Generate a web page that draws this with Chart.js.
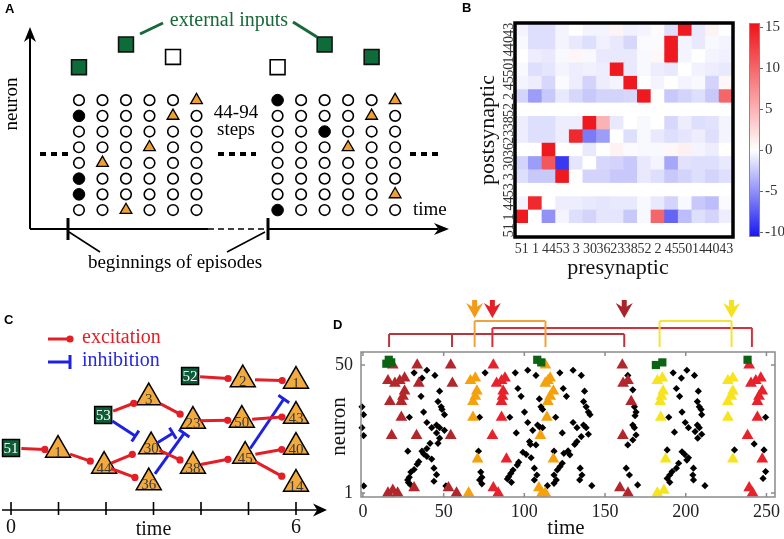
<!DOCTYPE html>
<html>
<head>
<meta charset="utf-8">
<script src="https://cdn.jsdelivr.net/npm/chart.js@4.4.1/dist/chart.umd.min.js"></script>
<style>
  body { margin: 0; background: #fff; }
  #fig { position: relative; width: 784px; height: 539px; overflow: hidden; background: #fff; }
  canvas { position: absolute; }
</style>
</head>
<body>
<div id="fig">
  <canvas id="panelA" width="460" height="300" style="left:0;top:0"></canvas>
  <canvas id="panelB" width="344" height="300" style="left:440px;top:0"></canvas>
  <canvas id="panelBbar" width="40" height="300" style="left:745px;top:0"></canvas>
  <canvas id="panelC" width="330" height="239" style="left:0;top:300px"></canvas>
  <canvas id="panelD" width="464" height="239" style="left:320px;top:300px"></canvas>
</div>
<script>
// ---------- data ----------

// A: two episodes, 8 neurons x 6 steps (top row first). o = silent, x = spike, t = sequence spike
const episodeLeft = ['ooooot', 'xoooto', 'oooooo', 'oootoo', 'otoooo', 'xooooo', 'xooooo', 'ootooo'];
const episodeRight = ['xoooot', 'ooooto', 'ooxooo', 'oootoo', 'oooooo', 'oooooo', 'ooooot', 'xooooo'];
const episodeStart = [0, 8.45];
const inputsActive = [[0, 10.1], [2, 11.55], [10.45, 11.55], [12.45, 10.75]];
const inputsSilent = [[4, 10.75], [8.45, 10.1]];

// B: weight matrix, rows = postsynaptic (bottom to top), columns = presynaptic
const neuronOrder = ['51', '1', '44', '53', '3', '30', '36', '23', '38', '52', '2', '45', '50', '14', '40', '43'];
const weights = [
  [0, 0, 0, 0, 0, 0, 0, 0, 0, 0, 0, 0, 0, 0, 0, 0],                                   // 51
  [15, 0, -5, -0.5, -1.5, -2, -1.2, -1.2, -2.5, -0.3, 10, -7, -3, -1.5, -2, -0.8],       // 1
  [-0.5, 14, 0, -0.8, -0.8, -1, -1.2, -1, -1, -0.3, -1, -2, -0.3, -2.5, -3, -0.2],       // 44
  [0, 0, 0, 0, 0, 0, 0, 0, 0, 0, 0, 0, 0, 0, 0, 0],                                   // 53
  [-1.5, -2.5, -2.5, 15, 0, -2, -2, -2.5, -2.5, -1, -1.5, -2.5, -2, -1.5, -2, -1.5],     // 3
  [-2, -4.5, 11, -9, -1.2, 0, -1.8, -2, -2.5, -1, -0.5, -4, -1.3, -1.5, -1.5, -1],       // 30
  [0, 0, 15, 0, 0, -1, 0, 0.8, -0.2, -0.3, -0.3, 0.5, 1, -0.5, -0.8, 0],                 // 36
  [-0.8, -1.5, -1.5, -0.8, 14, -6, -4.5, 0, -1.5, -0.3, -1, -1.5, -1.2, -0.8, -1.5, -0.5], // 23
  [-0.8, -1.5, -1.5, -0.8, -0.8, 15, 5, -1, 0, -0.3, 0, -1.8, -0.8, -1.5, -1.3, -0.5],   // 38
  [0, 0, 0, 0, 0, 0, 0, 0, 0, 0, 0, 0, 0, 0, 0, 0],                                   // 52
  [-2, -4.5, -2.5, -1, -1.8, -2.5, -2, -2, -1.8, 15, 0, -2.5, -2, -1.5, -2.5, 10],       // 2
  [-0.5, -0.8, -1.8, -0.2, -0.8, -2, -0.8, -0.5, 15, 0, -0.5, 0, -0.5, -0.3, -2, 0.5],   // 45
  [-0.3, -1.5, -1.2, -0.5, -0.8, -0.7, -0.8, 15, -1, -0.3, -0.8, -1, 0, -0.6, -0.8, -1], // 50
  [0, -0.8, -1, -0.3, 0.6, -0.3, -1, -1, -1, -0.3, 0.5, 15, -0.5, 0, -0.5, -0.7],        // 14
  [-0.3, -1.5, -1.5, -0.5, -1, -1.5, -0.7, -1, -1.8, -0.2, -0.2, 15, -0.5, -1, -0.3, -0.5], // 40
  [-0.5, -1.5, -1.5, -0.5, 0, -0.5, -0.5, 0.7, -0.7, -0.5, 0.3, -1.5, 15, -1, 0.8, 0]    // 43
];
const colorMin = -10.6;
const colorMax = 15.5;
const colorTicks = [-10, -5, 0, 5, 10, 15];

// C: network unrolled in time
const inputNeurons = [
  { key: 'in51', label: '51', t: 0, level: 6.2 },
  { key: 'in53', label: '53', t: 1.94, level: 9.5 },
  { key: 'in52', label: '52', t: 3.77, level: 13.4 }
];
const chainNeurons = [
  { key: 'n1', label: '1', t: 0.99, level: 6.0 },
  { key: 'n44', label: '44', t: 1.96, level: 4.4 },
  { key: 'n3', label: '3', t: 2.9, level: 11.25 },
  { key: 'n30', label: '30', t: 2.95, level: 6.35 },
  { key: 'n36', label: '36', t: 2.9, level: 2.75 },
  { key: 'n23', label: '23', t: 3.83, level: 8.9 },
  { key: 'n38', label: '38', t: 3.83, level: 4.4 },
  { key: 'n2', label: '2', t: 4.88, level: 13.05 },
  { key: 'n50', label: '50', t: 4.86, level: 9.0 },
  { key: 'n45', label: '45', t: 4.93, level: 5.4 },
  { key: 'n1b', label: '1', t: 6, level: 12.9 },
  { key: 'n43', label: '43', t: 6, level: 9.4 },
  { key: 'n40', label: '40', t: 6, level: 6.3 },
  { key: 'n14', label: '14', t: 6, level: 2.6 }
];
// [from, to, start fraction, end fraction]
const excitatory = [
  ['in51', 'n1', 0.22, 0.72], ['n1', 'n44', 0.26, 0.7], ['n44', 'n30', 0.15, 0.6], ['n44', 'n36', 0.15, 0.69],
  ['in53', 'n3', 0.22, 0.67], ['n3', 'n23', 0.27, 0.71], ['n30', 'n38', 0.2, 0.69], ['n23', 'n50', 0.15, 0.71],
  ['n38', 'n45', 0.15, 0.67], ['in52', 'n2', 0.19, 0.72], ['n2', 'n1b', 0.23, 0.74], ['n50', 'n43', 0.19, 0.74],
  ['n45', 'n40', 0.2, 0.72], ['n45', 'n14', 0.2, 0.72]
];
const inhibitory = [
  ['in53', 'n30', 0.19, 0.67], ['n30', 'n23', 0.14, 0.52], ['n36', 'n23', 0.14, 0.8], ['n45', 'n1b', 0.1, 0.76]
];
const timeSteps = [0, 1, 2, 3, 4, 5, 6];

// D: raster [time, neuron]
const inputSpikes = [[14.5, 50.5], [16, 52], [17.5, 51], [108, 52], [110.5, 51], [181.5, 50], [185.5, 51], [238.3, 52]];
const darkRedSpikes = [
  [18.5, 50], [33.6, 50], [15.5, 44], [19.8, 43], [22.8, 44], [25.8, 45], [34.6, 43], [16.7, 36], [23.8, 36],
  [24.8, 38], [25.8, 40], [23.8, 30], [17.8, 23], [33.2, 23], [15.5, 1], [18.5, 2], [21.5, 1], [31.7, 3],
  [54.4, 50], [55.4, 43], [54.4, 23], [53, 3], [58, 1],
  [160.7, 50], [161.2, 43], [164.2, 44], [166.2, 36], [161, 23], [159.2, 3], [164.2, 1]
];
const orangeSpikes = [
  [65.5, 1], [66.6, 44], [69.6, 45], [70.6, 40], [69.6, 38], [68.2, 36], [68.2, 30], [71, 14],
  [113, 50], [113, 43], [114.6, 44], [116, 45], [118, 40], [116, 38], [114.6, 36], [114, 30], [110, 23],
  [118, 14], [109, 3], [111, 1], [113, 1]
];
const redSpikes = [
  [80.8, 50], [82.8, 43], [85.9, 44], [88, 45], [86.9, 40], [86.5, 38], [85.9, 36], [85.9, 30], [80.2, 23],
  [88.9, 14], [80.8, 3], [83.8, 1],
  [239.3, 50], [240.4, 43], [243.4, 44], [246.5, 45], [247.4, 40], [245.4, 38], [244.4, 36], [244.4, 30],
  [238.3, 23], [247.4, 14], [239.3, 3], [241.4, 1]
];
const yellowSpikes = [
  [182.4, 44], [185.5, 45], [186, 40], [185, 38], [184.2, 36], [184.5, 30], [187.5, 14], [182.4, 1], [186.5, 2],
  [226.1, 44], [229.2, 45], [229.2, 40], [228.2, 38], [226.1, 36], [226.1, 30], [229.2, 14]
];
const otherSpikes = [
  [-0.6, 34], [0.4, 31], [-0.6, 26], [0.4, 23], [0.5, 3.7],
  [31.7, 47], [39.6, 48], [36.6, 45], [36, 38], [44.6, 46], [47.5, 40], [46.5, 36], [48.5, 34], [49, 33],
  [50.5, 31], [28.8, 30], [37.6, 32], [39.6, 28], [42.6, 26], [45.6, 27], [47.5, 26], [50.5, 25], [45.6, 24],
  [47.5, 22], [27.8, 17], [39.6, 18], [41.6, 20], [36.6, 17], [37.6, 16], [39.6, 15], [42.6, 14], [46.5, 20],
  [34.6, 13], [33.6, 12], [31.7, 10], [29.7, 9], [28.7, 7], [27.7, 6], [28.2, 5], [44, 10.5], [45.6, 8],
  [44, 5.5], [29.7, 4], [51.4, 3.7],
  [72.3, 30], [71.6, 17], [73, 9], [73.7, 7], [72.3, 6], [73.7, 4.5], [75.7, 47],
  [94.4, 47], [102.1, 48], [107.2, 46], [96, 41], [98, 38], [91, 30], [100.1, 32], [95, 24], [102.1, 28],
  [105.2, 25], [108.2, 27], [109.9, 26], [111.3, 26], [109.3, 37], [110.3, 34], [111.3, 33], [119.4, 30],
  [122, 47], [130.2, 48], [135.3, 46], [124.1, 41], [126.1, 38], [137.3, 40], [136.7, 36], [138.3, 34],
  [139.7, 32], [140.7, 31], [130.2, 28], [132.6, 26], [123.5, 24], [136.7, 27], [138.3, 26], [139.7, 23.5],
  [135.3, 22.6], [132.6, 20.7], [131.2, 19.6], [103.2, 20.7], [103.8, 19.6], [107.2, 19.4], [118.4, 17],
  [99.1, 16.6], [101.1, 15.8], [104.2, 14.5], [96.5, 12.8], [95.6, 11.7], [93, 9.8], [91.6, 8.5], [90.3, 7.2],
  [89.5, 6.4], [92, 5.1], [106.2, 10.5], [107.8, 7.9], [106.2, 6], [124.5, 16.2], [127.1, 17.1], [128.2, 15.6],
  [123.5, 12.4], [122.1, 11.1], [120.4, 9.8], [118.4, 7.9], [119.8, 6], [118.4, 4.7], [134.6, 10.5],
  [135.7, 7.9], [134.3, 6], [141.8, 3.8], [114.3, 3.8],
  [164.1, 46], [167.2, 40.5], [168.2, 34], [169.2, 32], [168.6, 30.6], [167.2, 27], [168.2, 26], [169.2, 23.2],
  [167.2, 21.3], [164.1, 19.4], [163.1, 10.5], [165.1, 7.9], [170.2, 4.1],
  [192.2, 47], [200.7, 48], [197.3, 45], [196.2, 38], [205.4, 46], [194.2, 41], [207.8, 40], [207.2, 36],
  [208.4, 34], [209.5, 33], [209.9, 31], [189.5, 30], [197.7, 32], [199.7, 28], [201.7, 26], [207.2, 27],
  [208.4, 26], [209.9, 23.5], [205.8, 24.5], [207.4, 22], [193, 24.3], [188.5, 17.5], [197.7, 16.8],
  [199.3, 15.8], [201.7, 14.5], [200.7, 13.6], [195.6, 12.4], [194.2, 10.5], [191.6, 9.2], [190.1, 7.9],
  [188.5, 6.6], [190.1, 5.1], [204.8, 10.5], [204.4, 7.9], [204.8, 6], [211.9, 3.8],
  [249.5, 30], [230.2, 17.5], [242.4, 19.8], [248.5, 17.5], [249.5, 9.2], [247.9, 6.6]
];
const timeTicks = [0, 50, 100, 150, 200, 250];
const neuronTicks = [1, 50];
// links between episodes drawn above the raster
const linkDarkRed = [16.2, 55.2, 161.9];
const linkRed = [80.2, 241];
const linkOrange = [69.2, 113.1];
const linkYellow = [183.8, 228.4];
const cueTimes = [69.2, 80.2, 161.9, 228.4];

// ---------- helpers ----------
const SERIF = "'Liberation Serif', 'Times New Roman', serif";
const SANS = "'Liberation Sans', Arial, sans-serif";
const base = {
  responsive: false, animation: false, devicePixelRatio: 1, events: [],
  plugins: { legend: { display: false }, tooltip: { enabled: false } }
};
Chart.defaults.font.family = SERIF;
Chart.defaults.color = '#222';

function seg(c, x1, y1, x2, y2) {
  c.beginPath(); c.moveTo(x1, y1); c.lineTo(x2, y2); c.stroke();
}
function arrowHead(c, x, y, dx, dy, len, hw) {
  const px = -dy, py = dx;
  c.beginPath();
  c.moveTo(x, y);
  c.lineTo(x - dx * len + px * hw, y - dy * len + py * hw);
  c.lineTo(x - dx * len * 0.7, y - dy * len * 0.7);
  c.lineTo(x - dx * len - px * hw, y - dy * len - py * hw);
  c.closePath(); c.fill();
}
function label(c, text, x, y, font, color, align) {
  c.font = font; c.fillStyle = color || '#000';
  c.textAlign = align || 'center'; c.textBaseline = 'middle';
  c.fillText(text, x, y);
}

// ---------- A ----------
const cells = { o: [], x: [], t: [] };
[episodeLeft, episodeRight].forEach((grid, b) => {
  grid.forEach((row, r) => {
    row.split('').forEach((s, col) => {
      cells[s].push({ x: episodeStart[b] + col, y: grid.length - r });
    });
  });
});
const toXY = arr => arr.map(([x, y]) => ({ x, y }));

const panelADecor = {
  id: 'panelADecor',
  afterDraw(chart) {
    const c = chart.ctx;
    c.save();
    c.strokeStyle = '#000'; c.fillStyle = '#000';
    label(c, 'A', 5, 9, 'bold 13px ' + SANS, '#000', 'left');
    // axes
    c.lineWidth = 2;
    seg(c, 30, 229, 30, 36);
    seg(c, 30, 229, 208, 229);
    seg(c, 268, 229, 438, 229);
    arrowHead(c, 30, 27, 0, -1, 15, 6);
    arrowHead(c, 449, 229, 1, 0, 15, 6);
    c.lineWidth = 1.5; c.setLineDash([6, 4]);
    seg(c, 208, 229, 268, 229);
    c.setLineDash([]);
    c.lineWidth = 3;
    seg(c, 68, 218, 68, 240);
    seg(c, 268, 218, 268, 240);
    // pointers to beginnings
    c.lineWidth = 1.5;
    seg(c, 100, 252, 69, 232);
    seg(c, 227, 252, 265, 232);
    label(c, 'beginnings of episodes', 175, 263, '19px ' + SERIF, '#000');
    label(c, 'time', 413, 210, '19px ' + SERIF, '#000', 'left');
    c.save(); c.translate(12, 104); c.rotate(-Math.PI / 2);
    label(c, 'neuron', 0, 0, '19px ' + SERIF, '#000');
    c.restore();
    // ellipsis dashes
    c.lineWidth = 4; c.setLineDash([6, 5]);
    seg(c, 40, 154, 72, 154);
    seg(c, 218, 154, 256, 154);
    seg(c, 410, 154, 442, 154);
    c.setLineDash([]);
    label(c, '44-94', 236, 113, '19px ' + SERIF, '#000');
    label(c, 'steps', 236, 130, '19px ' + SERIF, '#000');
    // external inputs
    const green = '#17683A';
    label(c, 'external inputs', 229, 21, '20px ' + SERIF, green);
    c.strokeStyle = green; c.lineWidth = 3;
    seg(c, 140, 34, 163, 23);
    seg(c, 293, 22, 317, 37);
    c.restore();
  }
};

new Chart(document.getElementById('panelA'), {
  type: 'scatter',
  data: {
    datasets: [
      { data: cells.o, pointStyle: 'circle', pointRadius: 5.3, pointBackgroundColor: '#fff', pointBorderColor: '#000', pointBorderWidth: 1.6 },
      { data: cells.x, pointStyle: 'circle', pointRadius: 5.8, pointBackgroundColor: '#000', pointBorderColor: '#000', pointBorderWidth: 1 },
      { data: cells.t, pointStyle: 'triangle', pointRadius: 6.8, pointBackgroundColor: '#F0A030', pointBorderColor: '#000', pointBorderWidth: 1.3 },
      { data: toXY(inputsActive), pointStyle: 'rect', pointRadius: 10.5, pointBackgroundColor: '#0E6B3A', pointBorderColor: '#111', pointBorderWidth: 1.6 },
      { data: toXY(inputsSilent), pointStyle: 'rect', pointRadius: 10.5, pointBackgroundColor: '#fff', pointBorderColor: '#000', pointBorderWidth: 1.6 }
    ]
  },
  options: {
    ...base,
    layout: { padding: 0, autoPadding: false },
    scales: {
      x: { display: false, min: -3.36, max: 16.21 },
      y: { display: false, min: -4.73, max: 14.38 }
    }
  },
  plugins: [panelADecor]
});

// ---------- B ----------
function weightColor(v) {
  const mix = (a, b, t) => Math.round(a + (b - a) * t);
  if (v >= 0) {
    const t = Math.min(v / colorMax, 1);
    return `rgb(${mix(255, 238, t)},${mix(255, 18, t)},${mix(255, 24, t)})`;
  }
  const t = Math.min(v / colorMin, 1);
  return `rgb(${mix(255, 22, t)},${mix(255, 22, t)},${mix(255, 240, t)})`;
}

const panelBDecor = {
  id: 'panelBDecor',
  afterDraw(chart) {
    const c = chart.ctx, a = chart.chartArea, ys = chart.scales.y;
    c.save();
    c.strokeStyle = '#000'; c.lineWidth = 3.5;
    c.strokeRect(a.left, a.top, a.right - a.left, a.bottom - a.top);
    neuronOrder.forEach((n, r) => {
      c.save(); c.translate(69, ys.getPixelForValue(r + 0.5)); c.rotate(-Math.PI / 2);
      label(c, n, 0, 0, '14px ' + SERIF, '#333');
      c.restore();
    });
    label(c, 'presynaptic', 178, 268, '22px ' + SERIF, '#111');
    c.save(); c.translate(48, 130); c.rotate(-Math.PI / 2);
    label(c, 'postsynaptic', 0, 0, '22px ' + SERIF, '#111');
    c.restore();
    label(c, 'B', 22, 8, 'bold 13px ' + SANS, '#000', 'left');
    c.restore();
  }
};

new Chart(document.getElementById('panelB'), {
  type: 'bar',
  data: {
    labels: neuronOrder,
    datasets: weights.map((row, r) => ({
      data: row.map(() => [r, r + 1]),
      backgroundColor: row.map(weightColor),
      borderWidth: 0,
      inflateAmount: 0.6,
      grouped: false,
      barPercentage: 1,
      categoryPercentage: 1
    }))
  },
  options: {
    ...base,
    layout: { padding: { left: 75, top: 23, right: 51, bottom: 0 }, autoPadding: false },
    scales: {
      x: {
        grid: { display: false, drawTicks: false }, border: { display: false },
        ticks: { autoSkip: false, maxRotation: 0, padding: 4, font: { size: 14, family: SERIF }, color: '#333' },
        afterFit: s => { s.height = 63; }
      },
      y: { display: false, min: 0, max: 16 }
    }
  },
  plugins: [panelBDecor]
});

const colorbarFrame = {
  id: 'colorbarFrame',
  afterDatasetsDraw(chart) {
    const c = chart.ctx, a = chart.chartArea;
    c.save(); c.strokeStyle = '#888'; c.lineWidth = 1;
    c.strokeRect(a.left + 0.5, a.top + 0.5, a.right - a.left - 1, a.bottom - a.top - 1);
    c.restore();
  }
};

new Chart(document.getElementById('panelBbar'), {
  type: 'bar',
  data: {
    labels: [''],
    datasets: [{
      data: [[colorMin, colorMax]],
      backgroundColor: ctx => {
        const a = ctx.chart.chartArea;
        if (!a) return '#fff';
        const g = ctx.chart.ctx.createLinearGradient(0, a.bottom, 0, a.top);
        const zero = -colorMin / (colorMax - colorMin);
        g.addColorStop(0, weightColor(colorMin));
        g.addColorStop(zero, '#fff');
        g.addColorStop(1, weightColor(colorMax));
        return g;
      },
      borderWidth: 0, barPercentage: 1, categoryPercentage: 1
    }]
  },
  options: {
    ...base,
    layout: { padding: { left: 4, top: 23, right: 0, bottom: 63 }, autoPadding: false },
    scales: {
      x: { display: false },
      y: {
        position: 'right', min: colorMin, max: colorMax,
        afterBuildTicks: s => { s.ticks = colorTicks.map(v => ({ value: v })); },
        grid: { drawOnChartArea: false, tickLength: 3, color: '#666' },
        border: { display: false },
        ticks: { padding: 2, font: { size: 15, family: SERIF }, color: '#333' },
        afterFit: s => { s.width = 25; }
      }
    }
  },
  plugins: [colorbarFrame]
});

// ---------- C ----------
const nodeByKey = {};
inputNeurons.concat(chainNeurons).forEach(n => { nodeByKey[n.key] = n; });
const RED = '#E41E26', BLUE = '#1E22E0';

function edgeDataset([from, to, s, e], kind) {
  const a = nodeByKey[from], b = nodeByKey[to];
  const exc = kind === 'exc';
  const color = exc ? RED : BLUE;
  return {
    showLine: true,
    data: [
      { x: a.t + s * (b.t - a.t), y: a.level + s * (b.level - a.level) },
      { x: a.t + e * (b.t - a.t), y: a.level + e * (b.level - a.level) }
    ],
    borderColor: color, borderWidth: 3,
    pointRadius: [0, exc ? 3.6 : 6.5],
    pointStyle: exc ? 'circle' : 'line',
    pointBackgroundColor: color, pointBorderColor: color,
    pointBorderWidth: exc ? 0 : 3,
    pointRotation: ctx => {
      const d = ctx.dataset.data, xs = ctx.chart.scales.x, ys = ctx.chart.scales.y;
      const dx = xs.getPixelForValue(d[1].x) - xs.getPixelForValue(d[0].x);
      const dy = ys.getPixelForValue(d[1].y) - ys.getPixelForValue(d[0].y);
      return Math.atan2(dy, dx) * 180 / Math.PI + 90;
    },
    order: 0
  };
}

const panelCDecor = {
  id: 'panelCDecor',
  afterDatasetDraw(chart, args) {
    const ds = chart.data.datasets[args.index];
    if (!ds.nodeLabels) return;
    const c = chart.ctx, xs = chart.scales.x, ys = chart.scales.y;
    c.save();
    ds.data.forEach((p, i) => {
      const x = xs.getPixelForValue(p.x), y = ys.getPixelForValue(p.y);
      if (ds.pointStyle === 'triangle') label(c, ds.nodeLabels[i], x, y + 3, '15px ' + SERIF, '#3a3a3a');
      else label(c, ds.nodeLabels[i], x, y + 1, '15px ' + SERIF, '#fff');
    });
    c.restore();
  },
  afterDraw(chart) {
    const c = chart.ctx, xs = chart.scales.x, ys = chart.scales.y;
    const y0 = ys.getPixelForValue(0);
    c.save();
    c.strokeStyle = '#000'; c.fillStyle = '#000'; c.lineWidth = 1.6;
    seg(c, 2, y0, 318, y0);
    arrowHead(c, 327, y0, 1, 0, 14, 6.5);
    timeSteps.forEach(t => {
      const x = xs.getPixelForValue(t);
      seg(c, x, y0 - 8, x, y0 + 5);
    });
    label(c, '0', xs.getPixelForValue(0), y0 + 18, '20px ' + SERIF, '#111');
    label(c, '6', xs.getPixelForValue(6), y0 + 18, '20px ' + SERIF, '#111');
    label(c, 'time', xs.getPixelForValue(3), y0 + 20, '20px ' + SERIF, '#111');
    // legend
    c.lineWidth = 3;
    c.strokeStyle = RED; c.fillStyle = RED;
    seg(c, 48, 39, 70, 39);
    c.beginPath(); c.arc(70, 39, 3.6, 0, Math.PI * 2); c.fill();
    label(c, 'excitation', 82, 38, '20px ' + SERIF, RED, 'left');
    c.strokeStyle = BLUE;
    seg(c, 48, 62, 70, 62);
    seg(c, 70, 55, 70, 69);
    label(c, 'inhibition', 82, 61, '20px ' + SERIF, '#2626E6', 'left');
    label(c, 'C', 4, 20, 'bold 13px ' + SANS, '#000', 'left');
    c.restore();
  }
};

new Chart(document.getElementById('panelC'), {
  type: 'scatter',
  data: {
    datasets: [
      ...excitatory.map(e => edgeDataset(e, 'exc')),
      ...inhibitory.map(e => edgeDataset(e, 'inh')),
      {
        data: chainNeurons.map(n => ({ x: n.t, y: n.level })),
        nodeLabels: chainNeurons.map(n => n.label),
        pointStyle: 'triangle', pointRadius: 14.4,
        pointBackgroundColor: '#F2AA3E', pointBorderColor: '#000', pointBorderWidth: 1.5, order: 1
      },
      {
        data: inputNeurons.map(n => ({ x: n.t, y: n.level })),
        nodeLabels: inputNeurons.map(n => n.label),
        pointStyle: 'rect', pointRadius: 12,
        pointBackgroundColor: '#0D5E38', pointBorderColor: '#000', pointBorderWidth: 1.5, order: 1
      }
    ]
  },
  options: {
    ...base,
    layout: { padding: 0, autoPadding: false },
    scales: {
      x: { display: false, min: -0.232, max: 6.716 },
      y: { display: false, min: -2.9, max: 21 }
    }
  },
  plugins: [panelCDecor]
});

// ---------- D ----------
function spikeSet(pts, style, color, radius, order) {
  return {
    data: toXY(pts), pointStyle: style, pointRadius: radius,
    pointBackgroundColor: color, pointBorderColor: color, pointBorderWidth: 0,
    order, clip: 10
  };
}

const panelDDecor = {
  id: 'panelDDecor',
  afterDraw(chart) {
    const c = chart.ctx, a = chart.chartArea, xs = chart.scales.x, ys = chart.scales.y;
    c.save();
    // frame with inward ticks
    c.strokeStyle = '#8a8a8a'; c.lineWidth = 1.5;
    c.strokeRect(a.left, a.top, a.right - a.left, a.bottom - a.top);
    timeTicks.forEach(t => {
      const x = xs.getPixelForValue(t);
      seg(c, x, a.bottom, x, a.bottom - 4);
      seg(c, x, a.top, x, a.top + 4);
    });
    neuronTicks.forEach(n => {
      const y = ys.getPixelForValue(n);
      seg(c, a.left, y, a.left + 4, y);
      seg(c, a.right, y, a.right - 4, y);
    });
    label(c, 'time', 246, 228, '21px ' + SERIF, '#111');
    c.save(); c.translate(19, (a.top + a.bottom) / 2 + 2); c.rotate(-Math.PI / 2);
    label(c, 'neuron', 0, 0, '21px ' + SERIF, '#111');
    c.restore();
    label(c, 'D', 13, 25, 'bold 13px ' + SANS, '#000', 'left');

    // brackets linking episodes
    const legBottom = 47;
    const bracket = (times, yLevel, color) => {
      c.strokeStyle = color; c.lineWidth = 2;
      const px = times.map(t => xs.getPixelForValue(t));
      seg(c, px[0], yLevel, px[px.length - 1], yLevel);
      px.forEach(x => seg(c, x, yLevel, x, legBottom));
    };
    bracket(linkDarkRed, 34, '#B8363B');
    bracket(linkRed, 28, '#D8303A');
    bracket(linkOrange, 21, '#F2A23A');
    bracket(linkYellow, 21, '#F3E33A');

    // cue arrows
    const cueColors = ['#F39A1B', '#E32028', '#A8232A', '#F5E21E'];
    cueTimes.forEach((t, i) => {
      const x = xs.getPixelForValue(t);
      c.fillStyle = cueColors[i];
      c.fillRect(x - 2.5, 0, 5, 9);
      c.beginPath();
      c.moveTo(x, 18); c.lineTo(x - 8.5, 3); c.lineTo(x, 8); c.lineTo(x + 8.5, 3);
      c.closePath(); c.fill();
    });
    c.restore();
  }
};

new Chart(document.getElementById('panelD'), {
  type: 'scatter',
  data: {
    datasets: [
      spikeSet(inputSpikes, 'rect', '#0B6414', 5.8, 0),
      spikeSet(darkRedSpikes, 'triangle', '#B3262C', 6.8, 1),
      spikeSet(orangeSpikes, 'triangle', '#F5A10C', 6.8, 1),
      spikeSet(redSpikes, 'triangle', '#E8222A', 6.8, 1),
      spikeSet(yellowSpikes, 'triangle', '#F7E41E', 6.8, 1),
      spikeSet(otherSpikes, 'rectRot', '#000', 3.6, 2)
    ]
  },
  options: {
    ...base,
    layout: { padding: { top: 52, right: 3, left: 0, bottom: 0 }, autoPadding: false },
    scales: {
      x: {
        type: 'linear', min: -1.2, max: 255.3,
        afterBuildTicks: s => { s.ticks = timeTicks.map(v => ({ value: v })); },
        grid: { display: false, drawTicks: false }, border: { display: false },
        ticks: { padding: 4, maxRotation: 0, font: { size: 18, family: SERIF }, color: '#222' },
        afterFit: s => { s.height = 42; }
      },
      y: {
        min: -0.53, max: 54.98,
        afterBuildTicks: s => { s.ticks = neuronTicks.map(v => ({ value: v })); },
        grid: { display: false, drawTicks: false }, border: { display: false },
        ticks: { padding: 8, font: { size: 18, family: SERIF }, color: '#222' },
        afterFit: s => { s.width = 41; }
      }
    }
  },
  plugins: [panelDDecor]
});
</script>
</body>
</html>
